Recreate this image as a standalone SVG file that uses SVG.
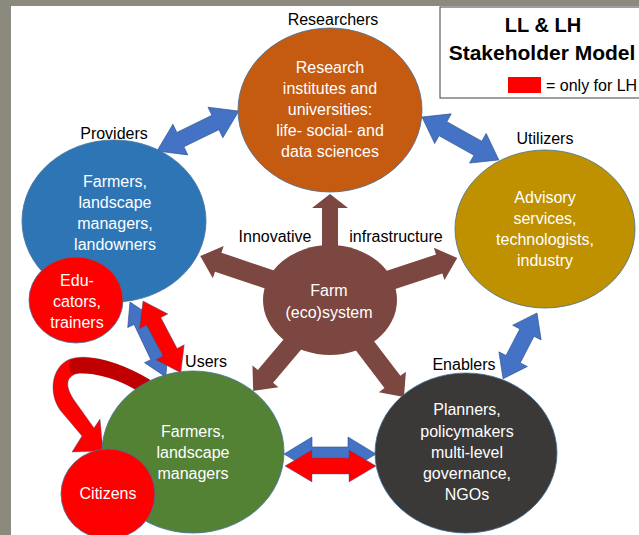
<svg xmlns="http://www.w3.org/2000/svg" width="639" height="535" viewBox="0 0 639 535">
<style>
.lbl{font-family:"Liberation Sans",Arial,sans-serif;font-size:16px;fill:#000;text-anchor:middle}
.nt{font-family:"Liberation Sans",Arial,sans-serif;font-size:16px;fill:#fff;text-anchor:middle}
.node{stroke:#41719c;stroke-width:0.8}
.blue{fill:#4472c4;stroke:#2f528f;stroke-width:0.6}
.red{fill:#ff0000;stroke:#2f528f;stroke-width:0.4}
.brown{fill:#7c4740}
</style>
<rect x="0" y="0" width="639" height="535" fill="#8c8a7e"/>
<rect x="11" y="6" width="628" height="529" fill="#ffffff"/>

<g id="legend">
<rect x="440" y="7" width="210" height="91" fill="#fff" stroke="#404040" stroke-width="1"/>
<text x="543" y="32" font-family="'Liberation Sans',Arial,sans-serif" font-size="20" font-weight="bold" text-anchor="middle">LL &amp; LH</text>
<text x="542" y="60" font-family="'Liberation Sans',Arial,sans-serif" font-size="21" font-weight="bold" text-anchor="middle">Stakeholder Model</text>
<rect x="508" y="77" width="33" height="16" fill="#ff0000"/>
<text x="546" y="91" font-family="'Liberation Sans',Arial,sans-serif" font-size="16">= only for LH</text>
</g>

<g id="connectors">
<polygon class="blue" transform="translate(157,151) rotate(-26)" points="0,0 26,-17 26,-8 65,-8 65,-17 91,0 65,17 65,8 26,8 26,17"/>
<polygon class="blue" transform="translate(422,117) rotate(29.2)" points="0,0 24,-17 24,-8 64,-8 64,-17 88,0 64,17 64,8 24,8 24,17"/>
<polygon class="blue" transform="translate(537,313) rotate(117.3)" points="0,0 22,-16 22,-8 52,-8 52,-16 74,0 52,16 52,8 22,8 22,16"/>
<polygon class="blue" transform="translate(130,302) rotate(64.5)" points="0,0 22,-13 22,-6 61,-6 61,-13 83,0 61,13 61,6 22,6 22,13"/>
<polygon class="red" transform="translate(143,301) rotate(62.2)" points="0,0 23,-16 23,-8 58,-8 58,-16 81,0 58,16 58,8 23,8 23,16"/>
<polygon class="blue" transform="translate(284,454)" points="0,0 28,-17 28,-7 64,-7 64,-17 92,0 64,17 64,7 28,7 28,17"/>
<polygon class="red" transform="translate(285,466)" points="0,0 27,-16 27,-8 64,-8 64,-16 91,0 64,16 64,8 27,8 27,16"/>
<path class="red" d="M150,380 C120,362 85,352 68,360 C52,368 48,392 60,410 L82,436 L72,452 L103,451 L100,419 L94,428 L74,400 C64,385 66,375 80,373 C100,372 120,380 140,392 Z"/>
<path fill="#c00000" d="M150,380 C120,362 88,353 70,360 C68,364 69,370 72,374 C85,371 115,376 140,392 Z"/>
<g class="brown">
<polygon transform="translate(330,300) rotate(-90)" points="0,-8 92,-8 92,-18 106,0 92,18 92,8 0,8"/>
<polygon transform="translate(330,300) rotate(-161.3)" points="0,-10 118,-10 118,-17 137,0 118,17 118,10 0,10"/>
<polygon transform="translate(330,300) rotate(-18.3)" points="0,-10 115,-10 115,-17 134,0 115,17 115,10 0,10"/>
<polygon transform="translate(330,300) rotate(130.2)" points="0,-10 100,-10 100,-17 119,0 100,17 100,10 0,10"/>
<polygon transform="translate(330,300) rotate(52.7)" points="0,-10 103,-10 103,-17 122,0 103,17 103,10 0,10"/>
</g>
</g>

<g id="researchers">
<ellipse class="node" cx="330" cy="110" rx="92" ry="82" fill="#c55a11"/>
<text class="lbl" x="333" y="25">Researchers</text>
<text class="nt" x="330" y="73">Research</text>
<text class="nt" x="330" y="94">institutes and</text>
<text class="nt" x="330" y="115">universities:</text>
<text class="nt" x="330" y="136">life- social- and</text>
<text class="nt" x="330" y="157">data sciences</text>
</g>

<g id="providers">
<ellipse class="node" cx="114" cy="221" rx="92" ry="81" fill="#2e75b6"/>
<text class="lbl" x="114" y="139">Providers</text>
<text class="nt" x="115" y="187">Farmers,</text>
<text class="nt" x="115" y="208">landscape</text>
<text class="nt" x="115" y="229">managers,</text>
<text class="nt" x="115" y="250">landowners</text>
</g>

<g id="educators">
<ellipse class="node" cx="76" cy="300" rx="47" ry="43" fill="#ff0000"/>
<text class="nt" x="77" y="286">Edu-</text>
<text class="nt" x="77" y="307">cators,</text>
<text class="nt" x="77" y="328">trainers</text>
</g>

<g id="utilizers">
<ellipse class="node" cx="545" cy="229" rx="90" ry="79" fill="#bf9000"/>
<text class="lbl" x="545" y="144">Utilizers</text>
<text class="nt" x="545" y="203">Advisory</text>
<text class="nt" x="545" y="224">services,</text>
<text class="nt" x="545" y="245">technologists,</text>
<text class="nt" x="545" y="266">industry</text>
</g>

<g id="farm">
<ellipse cx="330" cy="300" rx="67" ry="55" fill="#7c4740"/>
<text class="nt" x="329" y="296">Farm</text>
<text class="nt" x="329" y="318">(eco)system</text>
<text class="lbl" x="275" y="242">Innovative</text>
<text class="lbl" x="396" y="242">infrastructure</text>
</g>

<g id="users">
<ellipse class="node" cx="193" cy="452" rx="91" ry="81" fill="#548235"/>
<text class="lbl" x="206" y="367">Users</text>
<text class="nt" x="193" y="437">Farmers,</text>
<text class="nt" x="193" y="458">landscape</text>
<text class="nt" x="193" y="479">managers</text>
</g>

<g id="citizens">
<ellipse class="node" cx="108" cy="494" rx="47" ry="45" fill="#ff0000"/>
<text class="nt" x="108" y="499">Citizens</text>
</g>

<g id="enablers">
<ellipse class="node" cx="466" cy="453" rx="91" ry="80" fill="#3b3838"/>
<text class="lbl" x="464" y="370">Enablers</text>
<text class="nt" x="467" y="415">Planners,</text>
<text class="nt" x="467" y="437">policymakers</text>
<text class="nt" x="467" y="458">multi-level</text>
<text class="nt" x="467" y="479">governance,</text>
<text class="nt" x="467" y="500">NGOs</text>
</g>
</svg>
